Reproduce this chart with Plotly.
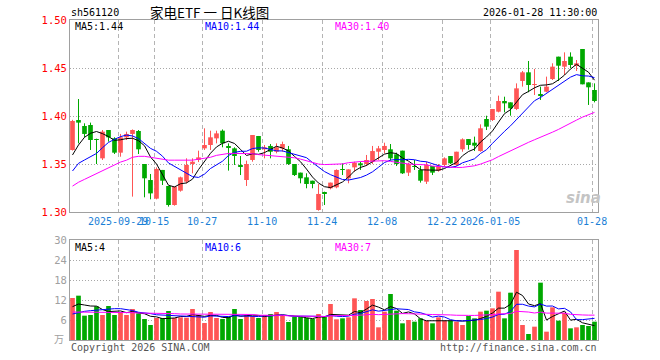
import numpy as np
import pandas as pd
import plotly.graph_objects as go

# ---------------- data ----------------
holidays = ['2025-10-01', '2025-10-02', '2025-10-03', '2025-10-06', '2025-10-07',
            '2025-10-08', '2026-01-01', '2026-01-02']
dates = [d.strftime('%Y-%m-%d') for d in pd.bdate_range('2025-09-17', '2026-01-28')
         if d.strftime('%Y-%m-%d') not in holidays]

opens = [1.3646, 1.3958, 1.3896, 1.3906, 1.3752, 1.3559, 1.3854, 1.3767, 1.3618, 1.3778,
         1.3813, 1.3844, 1.3500, 1.3333, 1.3139, 1.3438, 1.3271, 1.3073, 1.3222, 1.3316,
         1.3500, 1.3542, 1.3663, 1.3698, 1.3767, 1.3847, 1.3676, 1.3663, 1.3474, 1.3333,
         1.3542, 1.3792, 1.3653, 1.3688, 1.3628, 1.3663, 1.3653, 1.3500, 1.3410, 1.3361,
         1.3326, 1.3021, 1.3196, 1.3247, 1.3257, 1.3440, 1.3351, 1.3465, 1.3507, 1.3500,
         1.3524, 1.3628, 1.3646, 1.3653, 1.3601, 1.3639, 1.3410, 1.3472, 1.3438, 1.3316,
         1.3479, 1.3431, 1.3490, 1.3583, 1.3490, 1.3653, 1.3760, 1.3722, 1.3635, 1.3969,
         1.3958, 1.4045, 1.4156, 1.4142, 1.4073, 1.4365, 1.4455, 1.4323, 1.4214, 1.4253,
         1.4385, 1.4618, 1.4514, 1.4618, 1.4531, 1.4698, 1.4350, 1.4271]
highs = [1.3960, 1.4177, 1.3924, 1.3931, 1.3764, 1.3854, 1.3854, 1.3778, 1.3813, 1.3837,
         1.3860, 1.3854, 1.3500, 1.3396, 1.3465, 1.3438, 1.3271, 1.3264, 1.3368, 1.3559,
         1.3559, 1.3639, 1.3872, 1.3847, 1.3847, 1.3860, 1.3715, 1.3674, 1.3583, 1.3535,
         1.3802, 1.3792, 1.3698, 1.3708, 1.3715, 1.3733, 1.3688, 1.3500, 1.3410, 1.3403,
         1.3326, 1.3292, 1.3212, 1.3306, 1.3444, 1.3507, 1.3444, 1.3524, 1.3524, 1.3594,
         1.3688, 1.3688, 1.3722, 1.3708, 1.3618, 1.3639, 1.3514, 1.3542, 1.3479, 1.3524,
         1.3479, 1.3500, 1.3569, 1.3583, 1.3628, 1.3767, 1.3760, 1.3785, 1.3913, 1.4003,
         1.4073, 1.4212, 1.4201, 1.4142, 1.4340, 1.4469, 1.4573, 1.4490, 1.4306, 1.4410,
         1.4549, 1.4618, 1.4663, 1.4663, 1.4583, 1.4698, 1.4350, 1.4340]
lows = [1.3640, 1.3715, 1.3778, 1.3646, 1.3500, 1.3542, 1.3733, 1.3604, 1.3576, 1.3750,
        1.3160, 1.3604, 1.3153, 1.3132, 1.3132, 1.3281, 1.3056, 1.3066, 1.3212, 1.3299,
        1.3403, 1.3520, 1.3646, 1.3646, 1.3715, 1.3674, 1.3431, 1.3490, 1.3385, 1.3271,
        1.3524, 1.3628, 1.3559, 1.3559, 1.3611, 1.3628, 1.3490, 1.3375, 1.3299, 1.3247,
        1.3247, 1.3014, 1.3073, 1.3236, 1.3247, 1.3385, 1.3299, 1.3420, 1.3438, 1.3479,
        1.3500, 1.3542, 1.3611, 1.3535, 1.3479, 1.3396, 1.3375, 1.3438, 1.3306, 1.3292,
        1.3385, 1.3420, 1.3472, 1.3500, 1.3479, 1.3628, 1.3650, 1.3635, 1.3628, 1.3854,
        1.3948, 1.4038, 1.4038, 1.4003, 1.4062, 1.4306, 1.4247, 1.4219, 1.4167, 1.4247,
        1.4375, 1.4365, 1.4427, 1.4497, 1.4469, 1.4330, 1.4115, 1.4142]
closes = [1.3948, 1.3931, 1.3813, 1.3750, 1.3750, 1.3837, 1.3778, 1.3618, 1.3778, 1.3813,
          1.3854, 1.3653, 1.3351, 1.3194, 1.3448, 1.3326, 1.3073, 1.3264, 1.3361, 1.3490,
          1.3524, 1.3569, 1.3698, 1.3778, 1.3819, 1.3715, 1.3674, 1.3583, 1.3472, 1.3500,
          1.3802, 1.3646, 1.3674, 1.3628, 1.3674, 1.3708, 1.3500, 1.3385, 1.3351, 1.3292,
          1.3292, 1.3188, 1.3194, 1.3306, 1.3438, 1.3438, 1.3444, 1.3514, 1.3486, 1.3542,
          1.3635, 1.3663, 1.3688, 1.3559, 1.3500, 1.3403, 1.3500, 1.3470, 1.3326, 1.3490,
          1.3410, 1.3479, 1.3559, 1.3507, 1.3628, 1.3757, 1.3698, 1.3691, 1.3872, 1.3889,
          1.4073, 1.4156, 1.4132, 1.4080, 1.4288, 1.4455, 1.4323, 1.4323, 1.4212, 1.4306,
          1.4514, 1.4524, 1.4573, 1.4531, 1.4549, 1.4330, 1.4299, 1.4156]
volumes = [12.6, 13.3, 7.3, 7.5, 10.1, 7.5, 10.2, 7.5, 8.3, 7.5,
           9.3, 8.0, 6.3, 4.5, 6.6, 6.6, 8.7, 6.6, 6.8, 6.7,
           9.3, 7.5, 5.1, 8.4, 6.6, 6.3, 7.0, 9.3, 6.3, 7.5,
           7.2, 6.6, 7.5, 7.8, 8.4, 7.5, 5.4, 6.9, 6.9, 6.6,
           6.3, 7.8, 6.9, 10.8, 6.2, 6.5, 6.8, 12.5, 9.0, 11.7,
           12.3, 3.8, 8.5, 13.8, 8.8, 5.0, 6.0, 5.5, 6.5, 5.8,
           5.0, 6.8, 5.8, 5.8, 5.5, 4.5, 7.2, 6.5, 8.5, 8.8,
           9.5, 14.5, 6.5, 14.2, 27.0, 4.5, 1.8, 4.0, 17.2, 2.5,
           9.8, 5.8, 8.2, 3.5, 3.8, 4.5, 4.2, 5.5]

# moving-average values before enough history is on screen
ma5_head = [1.3594, 1.3698, 1.3778, 1.3820]
ma10_head = [1.3427, 1.3507, 1.3542, 1.3576, 1.3610, 1.3670, 1.3725, 1.3757, 1.3785]
ma30_head = [1.327, 1.331, 1.334, 1.337, 1.340, 1.343, 1.346, 1.349, 1.352, 1.354,
             1.357, 1.358, 1.358, 1.357, 1.356, 1.355, 1.354, 1.354, 1.354, 1.354,
             1.354, 1.355, 1.356, 1.357, 1.359, 1.360, 1.361, 1.361, 1.361]
vma5_head = [10.0, 10.8, 10.5, 10.2]
vma10_head = [7.8, 8.3, 8.6, 8.8, 9.0, 9.2, 9.4, 9.4, 9.4]
vma30_head = [8.4, 8.4, 8.4, 8.4, 8.4, 8.3, 8.3, 8.3, 8.3, 8.2,
              8.2, 8.1, 8.1, 8.0, 8.0, 7.9, 7.9, 7.9, 7.8, 7.8,
              7.8, 7.8, 7.7, 7.7, 7.7, 7.7, 7.7, 7.7, 7.8]

tick_dates = ['2025-09-29', '2025-10-15', '2025-10-27', '2025-11-10', '2025-11-24',
              '2025-12-08', '2025-12-22', '2026-01-05', '2026-01-28']
tick_labels = ['2025-09-29', '10-15', '10-27', '11-10', '11-24', '12-08', '12-22',
               '2026-01-05', '01-28']
price_ticks = [1.30, 1.35, 1.40, 1.45, 1.50]
vol_ticks = [6, 12, 18, 24, 30]


def moving_average(values, n, head):
    s = pd.Series(values, dtype=float).rolling(n).mean().to_numpy()
    s[:n - 1] = head
    return s


# ---------------- styles ----------------
RED = '#ff5555'
GREEN = '#00a800'
MONO = 'DejaVu Sans Mono'
CJK = 'Noto Sans CJK SC'
W, H = 660, 360
L, R, T, B = 70, 62, 20, 20
PW, PH = W - L - R, H - T - B

x = np.arange(len(dates))
o, h, l, c, v = map(np.array, (opens, highs, lows, closes, volumes))
up = c >= o
ma5 = moving_average(closes, 5, ma5_head)
ma10 = moving_average(closes, 10, ma10_head)
ma30 = moving_average(closes, 30, ma30_head)
vma5 = moving_average(volumes, 5, vma5_head)
vma10 = moving_average(volumes, 10, vma10_head)
vma30 = moving_average(volumes, 30, vma30_head)

fig = go.Figure()


def wick_xy(mask):
    xs, ys = [], []
    for i in np.where(mask)[0]:
        xs += [x[i], x[i], None]
        ys += [l[i], h[i], None]
    return xs, ys


for mask, col in ((up, RED), (~up, GREEN)):
    wx, wy = wick_xy(mask)
    fig.add_trace(go.Scatter(x=wx, y=wy, mode='lines', line=dict(color=col, width=1),
                             xaxis='x', yaxis='y', hoverinfo='skip'))
    base = np.minimum(o, c)[mask]
    body = np.maximum(np.abs(c - o)[mask], 0.0008)
    fig.add_trace(go.Bar(x=x[mask], y=body, base=base, width=0.78, marker_color=col,
                         marker_line_width=0, xaxis='x', yaxis='y'))

for ser, col in ((ma5, 'black'), (ma10, '#0000ff'), (ma30, '#ff00ff')):
    fig.add_trace(go.Scatter(x=x, y=ser, mode='lines', line=dict(color=col, width=1),
                             xaxis='x', yaxis='y'))

fig.add_trace(go.Bar(x=x, y=v, width=0.78, marker_color=[RED if u else GREEN for u in up],
                     marker_line_width=0, xaxis='x2', yaxis='y2'))
for ser, col in ((vma5, 'black'), (vma10, '#0000ff'), (vma30, '#ff00ff')):
    fig.add_trace(go.Scatter(x=x, y=ser, mode='lines', line=dict(color=col, width=1),
                             xaxis='x2', yaxis='y2'))

tick_idx = [dates.index(d) for d in tick_dates]
tickvals = [t - 0.4 for t in tick_idx]
xr = [-0.4167, len(dates) - 0.4167]

common_x = dict(range=xr, tickvals=tickvals, showgrid=True, gridcolor='#b4b4b4',
                griddash='4px,3px', gridwidth=1, zeroline=False, showline=True,
                mirror=True, linecolor='#a0a0a0', linewidth=1, ticks='')
fig.update_layout(
    width=W, height=H, margin=dict(l=L, r=R, t=T, b=B),
    paper_bgcolor='white', plot_bgcolor='white', showlegend=False,
    barmode='overlay', hovermode=False,
    xaxis=dict(anchor='y', ticktext=tick_labels, tickangle=0,
               tickfont=dict(family=MONO, size=10, color='#1b7fd6'), **common_x),
    xaxis2=dict(anchor='y2', matches='x', showticklabels=False, **common_x),
    yaxis=dict(domain=[(340 - 212) / PH, 1.0], range=[1.30, 1.50], tickvals=price_ticks,
               ticktext=['%.2f' % t for t in price_ticks],
               tickfont=dict(family=MONO, size=10.5, color='#ff0000'),
               showgrid=True, gridcolor='#a8a8a8', griddash='1px,2px', zeroline=False,
               showline=True, mirror=True, linecolor='#a0a0a0', ticks=''),
    yaxis2=dict(domain=[0, (340 - 240) / PH], range=[0, 30], tickvals=vol_ticks,
                ticktext=[str(t) for t in vol_ticks],
                tickfont=dict(family=MONO, size=10.5, color='#a0a0a0'),
                showgrid=True, gridcolor='#a8a8a8', griddash='1px,2px', zeroline=False,
                showline=True, mirror=True, linecolor='#a0a0a0', ticks=''),
)


def ann(px, py, text, color='black', size=10, anchor='left', family=MONO):
    fig.add_annotation(x=(px - L) / PW, y=(H - B - py) / PH, xref='paper', yref='paper',
                       text=text, showarrow=False, xanchor=anchor, yanchor='middle',
                       font=dict(family=family, size=size, color=color))


ann(69, 13, 'sh561120')
ann(209, 12, '家电ETF 一 日K线图', size=13.5, anchor='center', family=CJK)
ann(599, 13, '2026-01-28 11:30:00', anchor='right')
ann(73, 27, 'MA5:%.2f' % ma5[-1])
ann(203, 27, 'MA10:%.2f' % ma10[-1], color='#0000ff')
ann(333, 27, 'MA30:%.2f' % ma30[-1], color='#ff00ff')
ann(73, 247, 'MA5:%d' % int(vma5[-1]))
ann(203, 247, 'MA10:%d' % int(vma10[-1]), color='#0000ff')
ann(333, 247, 'MA30:%d' % int(vma30[-1]), color='#ff00ff')
ann(69, 347, 'Copyright 2026 SINA.COM', color='#555555')
ann(599, 347, 'http://finance.sina.com.cn', color='#555555', anchor='right')
ann(66, 338, '万', color='#a0a0a0', size=10, anchor='right', family=CJK)
ann(583, 198, '<b><i>sina</i></b>', color='#c4c4c4', size=15, anchor='center',
    family='DejaVu Sans')

fig.write_html('out.html', config={'displayModeBar': False},
               post_script="document.body.style.margin='0';")
